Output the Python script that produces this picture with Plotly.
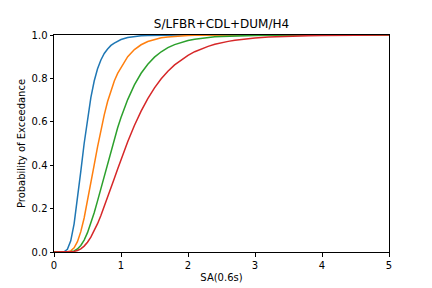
import plotly.graph_objects as go

title = "S/LFBR+CDL+DUM/H4"
x_label = "SA(0.6s)"
y_label = "Probability of Exceedance"

sa = [0.0, 0.05, 0.10, 0.15, 0.20, 0.25, 0.30, 0.35, 0.40, 0.45, 0.50, 0.55, 0.60, 0.65, 0.70,
      0.75, 0.80, 0.85, 0.90, 0.95, 1.00, 1.1, 1.2, 1.3, 1.4, 1.5, 1.6, 1.7, 1.8, 1.9, 2.0,
      2.1, 2.2, 2.3, 2.4, 2.5, 2.6, 2.7, 2.8, 2.9, 3.0, 3.2, 3.4, 3.6, 3.8, 4.0, 4.5, 5.0]

poe_ds1 = [0.0, 0.0, 0.0, 0.0011, 0.0121, 0.0512, 0.130, 0.2426, 0.3718, 0.5, 0.615, 0.7114, 0.7879,
           0.8440, 0.8850, 0.9150, 0.9350, 0.9520, 0.9630, 0.9720, 0.9790, 0.9880, 0.9930, 0.9960,
           0.9980, 0.9990, 0.9995, 0.9998, 1.0, 1.0, 1.0, 1.0, 1.0, 1.0, 1.0, 1.0, 1.0, 1.0, 1.0,
           1.0, 1.0, 1.0, 1.0, 1.0, 1.0, 1.0, 1.0, 1.0]
poe_ds2 = [0.0, 0.0, 0.0, 0.00005, 0.0008, 0.0053, 0.0190, 0.0476, 0.0938, 0.1568, 0.2325, 0.3157,
           0.4010, 0.4840, 0.5615, 0.6317, 0.6936, 0.7450, 0.7880, 0.8230, 0.8500, 0.9000, 0.9330,
           0.9550, 0.9700, 0.9800, 0.9870, 0.9910, 0.9940, 0.9960, 0.9975, 0.9983, 0.9989, 0.9993,
           0.9996, 0.9998, 1.0, 1.0, 1.0, 1.0, 1.0, 1.0, 1.0, 1.0, 1.0, 1.0, 1.0, 1.0]
poe_ds3 = [0.0, 0.0, 0.0, 0.0, 0.0002, 0.0014, 0.0052, 0.0141, 0.0303, 0.0551, 0.0892, 0.1316, 0.1809,
           0.2354, 0.2929, 0.3516, 0.4102, 0.4670, 0.5213, 0.5724, 0.6196, 0.7024, 0.7698, 0.8236,
           0.8655, 0.8979, 0.9227, 0.9415, 0.9558, 0.9666, 0.9747, 0.9808, 0.9854, 0.9889, 0.9916,
           0.9935, 0.9950, 0.9962, 0.9971, 0.9977, 0.9982, 0.9989, 0.9994, 0.9996, 0.9998, 0.9999,
           1.0, 1.0]
poe_ds4 = [0.0, 0.0, 0.0, 0.0, 0.0001, 0.0007, 0.0025, 0.0068, 0.0147, 0.0272, 0.0451, 0.0685, 0.0971,
           0.1305, 0.1678, 0.2081, 0.2507, 0.2944, 0.3385, 0.3825, 0.4258, 0.5079, 0.5827, 0.6491,
           0.7068, 0.7562, 0.7980, 0.8330, 0.8622, 0.8865, 0.9064, 0.9230, 0.9366, 0.9477, 0.9569,
           0.9644, 0.9706, 0.9757, 0.9799, 0.9833, 0.9861, 0.9904, 0.9933, 0.9953, 0.9970, 0.9982,
           0.9996, 1.0]

series = [poe_ds1, poe_ds2, poe_ds3, poe_ds4]
colors = ["#1f77b4", "#ff7f0e", "#2ca02c", "#d62728"]

x_ticks = [0, 1, 2, 3, 4, 5]
y_ticks = [0.0, 0.2, 0.4, 0.6, 0.8, 1.0]

fig = go.Figure()
for ys, c in zip(series, colors):
    fig.add_trace(go.Scatter(x=sa, y=ys, mode="lines", line=dict(color=c, width=1.5),
                             showlegend=False, cliponaxis=True))

font = dict(family="DejaVu Sans", size=10, color="black")
axis_common = dict(showgrid=False, zeroline=False, showline=True, linecolor="black", linewidth=1,
                   mirror=True, ticks="outside", ticklen=3.5, tickwidth=1, tickcolor="black",
                   tickfont=font, automargin=False)

fig.update_layout(
    width=432, height=288,
    margin=dict(l=54, r=43, t=35, b=36),
    paper_bgcolor="white", plot_bgcolor="white",
    font=font,
    title=dict(text=title, x=221.5 / 432, xanchor="center", y=1 - 24 / 288, yanchor="middle",
               font=dict(family="DejaVu Sans", size=12, color="black")),
    xaxis=dict(range=[0, 5], tickvals=x_ticks, ticktext=[str(t) for t in x_ticks],
               title=dict(text=x_label, font=font, standoff=4), **axis_common),
    yaxis=dict(range=[0, 1], tickvals=y_ticks, ticktext=[f"{t:.1f}" for t in y_ticks],
               title=dict(text=y_label, font=font, standoff=4), **axis_common),
)

fig.write_html("out.html")
